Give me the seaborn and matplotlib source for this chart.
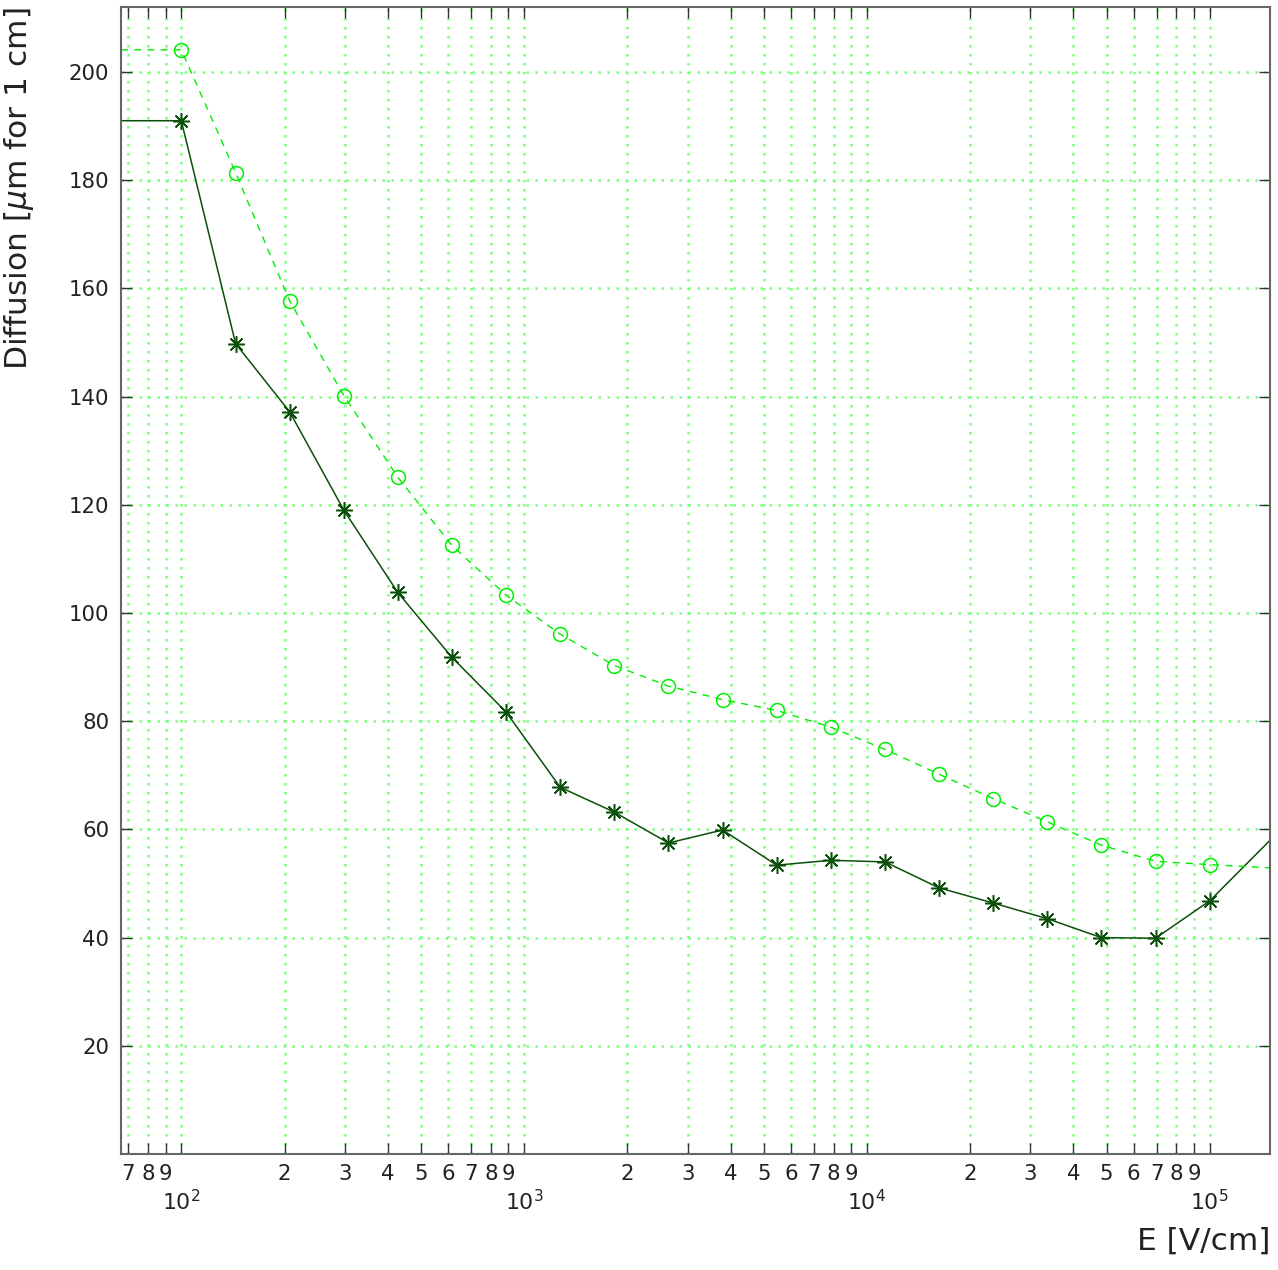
# %% importando bibliotecas

import pandas as pd
import matplotlib
matplotlib.use("Agg")
import matplotlib.pyplot as plt
import matplotlib.ticker as mticker
import seaborn as sns

# definindo estilo dos plots do seaborn
sns.set_style("ticks")
plt.rcParams['font.family'] = ['DejaVu Sans']
plt.rcParams['mathtext.fontset'] = 'dejavusans'

# %% Dados

# campo elétrico [V/cm]
campo_E = [100, 144, 207, 298, 428, 616, 886, 1274, 1833, 2637,
           3793, 5456, 7848, 11288, 16238, 23357, 33598, 48329, 69519, 100000]

# curva escura (linha cheia, asteriscos)
difusao_escura = [191.0, 149.8, 137.2, 119.0, 103.8, 91.8, 81.7, 67.8, 63.2, 57.5,
                  59.9, 53.4, 54.3, 54.0, 49.2, 46.4, 43.5, 40.0, 39.9, 46.8]

# curva clara (tracejada, círculos)
difusao_clara = [204.1, 181.4, 157.7, 140.2, 125.1, 112.5, 103.3, 96.1, 90.3, 86.5,
                 84.0, 82.0, 78.9, 74.8, 70.2, 65.7, 61.4, 57.1, 54.1, 53.5]

# valores das curvas nas bordas do eixo x
borda_E = [66.7, 150000]
borda_escura = [191.0, 58.0]
borda_clara = [204.1, 52.9]

# ticks
y_ticks = [20, 40, 60, 80, 100, 120, 140, 160, 180, 200]
x_major_ticks = [100, 1000, 10000, 100000]
x_major_labels = ['$10^{2}$', '$10^{3}$', '$10^{4}$', '$10^{5}$']
x_minor_ticks = [70, 80, 90,
                 200, 300, 400, 500, 600, 700, 800, 900,
                 2000, 3000, 4000, 5000, 6000, 7000, 8000, 9000,
                 20000, 30000, 40000, 50000, 60000, 70000, 80000, 90000]
x_minor_labels = ['7', '8', '9'] + ['2', '3', '4', '5', '6', '7', '8', '9'] * 3

cor_escura = '#0b4f0b'
cor_clara = '#00ee00'
cor_grade = '#7dff7d'

# %% Montando DataFrames

linhas_df = pd.DataFrame({
    'E': [borda_E[0]] + campo_E + [borda_E[1]],
    'escura': [borda_escura[0]] + difusao_escura + [borda_escura[1]],
    'clara': [borda_clara[0]] + difusao_clara + [borda_clara[1]],
})
pontos_df = pd.DataFrame({'E': campo_E, 'escura': difusao_escura, 'clara': difusao_clara})

# %% Plot

fig = plt.figure(figsize=(12.78, 12.70), dpi=100)
ax = fig.add_axes([0.0947, 0.0913, 0.8991, 0.9031])
ax.set_xscale('log')

# linhas
sns.lineplot(data=linhas_df, x='E', y='escura', color=cor_escura, lw=1.1,
             estimator=None, sort=False, ax=ax)
sns.lineplot(data=linhas_df, x='E', y='clara', color=cor_clara, lw=1.0,
             linestyle=(0, (5, 4.5)), estimator=None, sort=False, ax=ax)

# marcadores
sns.lineplot(data=pontos_df, x='E', y='escura', color=cor_escura, linestyle='none',
             marker=(8, 2, 0), markersize=12, markeredgewidth=1.1,
             markeredgecolor=cor_escura, estimator=None, sort=False, ax=ax)
sns.lineplot(data=pontos_df, x='E', y='clara', color=cor_clara, linestyle='none',
             marker='o', markersize=10, markerfacecolor='none', markeredgewidth=1.1,
             markeredgecolor=cor_clara, estimator=None, sort=False, ax=ax)

# limites
ax.set_xlim(borda_E[0], borda_E[1])
ax.set_ylim(0, 212)

# ticks do eixo x
ax.xaxis.set_major_locator(mticker.FixedLocator(x_major_ticks))
ax.xaxis.set_major_formatter(mticker.FixedFormatter(x_major_labels))
ax.xaxis.set_minor_locator(mticker.FixedLocator(x_minor_ticks))
ax.xaxis.set_minor_formatter(mticker.FixedFormatter(x_minor_labels))

# ticks do eixo y
ax.yaxis.set_major_locator(mticker.FixedLocator(y_ticks))
ax.yaxis.set_minor_locator(mticker.NullLocator())

ax.tick_params(which='both', direction='in', top=True, right=True,
               length=8, width=1, color='#333333', labelcolor='#222222')
ax.tick_params(axis='x', which='minor', pad=7, labelsize=15.3)
ax.tick_params(axis='x', which='major', pad=25, labelsize=15.8)
ax.tick_params(axis='y', which='major', pad=8.5, labelsize=15.3)

# grade pontilhada
ax.set_axisbelow(True)
ax.grid(axis='x', which='both', color=cor_grade, linestyle=(0, (1, 2.6)), lw=1.8)
ax.grid(axis='y', which='major', color=cor_grade, linestyle=(0, (1, 2.6)), lw=1.8)

for spine in ax.spines.values():
    spine.set_color('#666666')
    spine.set_linewidth(1.5)

# rótulos dos eixos
ax.set_xlabel('E [V/cm]', fontsize=22.5, color='#222222', loc='right')
ax.xaxis.set_label_coords(1.0, -0.0636)
ax.set_ylabel(r'Diffusion [$\mu$m for 1 cm]', fontsize=22.5, color='#222222', loc='top')
ax.yaxis.set_label_coords(-0.074, 1.0)

plt.savefig('out.png', dpi=100)
